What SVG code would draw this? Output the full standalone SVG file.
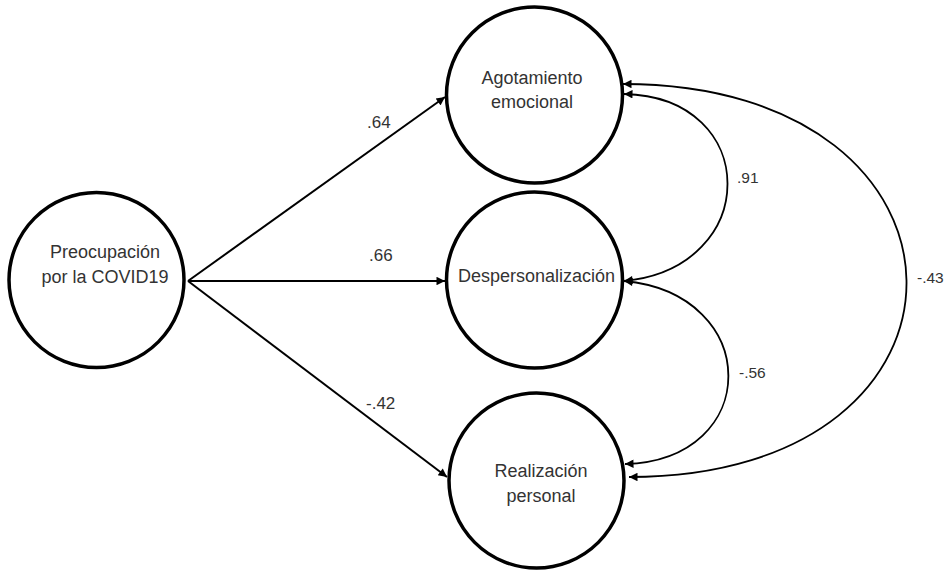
<svg xmlns="http://www.w3.org/2000/svg" width="949" height="572" viewBox="0 0 949 572">
<style>
.node{fill:#fff;stroke:#000;stroke-width:3.5}
.nt{font-family:"Liberation Sans",Arial,sans-serif;font-size:18px;fill:#333;text-anchor:middle}
.lab{font-family:"Liberation Sans",Arial,sans-serif;font-size:17px;fill:#333}
.lab2{font-family:"Liberation Sans",Arial,sans-serif;font-size:15.5px;fill:#333}
.ed{fill:none;stroke:#000;stroke-width:2}
.cv{fill:none;stroke:#000;stroke-width:1.8}
</style>
<defs>
<marker id="ah" viewBox="0 0 10 10" refX="10" refY="5" markerWidth="10" markerHeight="8.5" markerUnits="userSpaceOnUse" orient="auto-start-reverse">
<path d="M0,0 L10,5 L0,10 z" fill="#000"/>
</marker>
</defs>
<g id="connectors">
<line class="ed" x1="188" y1="281" x2="445" y2="97" marker-end="url(#ah)"/>
<line class="ed" x1="188" y1="281" x2="445" y2="281" marker-end="url(#ah)"/>
<line class="ed" x1="188" y1="281" x2="447" y2="477" marker-end="url(#ah)"/>
<path class="cv" d="M624,94 C762,97 762,268 624,281" marker-start="url(#ah)" marker-end="url(#ah)"/>
<path class="cv" d="M624,281 C763,294 763,460 625,464" marker-start="url(#ah)" marker-end="url(#ah)"/>
<path class="cv" d="M623,84 C997,84 1003,477 629,477" marker-start="url(#ah)" marker-end="url(#ah)"/>
<text class="lab" x="367" y="128">.64</text>
<text class="lab" x="369" y="261">.66</text>
<text class="lab" x="366" y="409">-.42</text>
<text class="lab2" x="737" y="183">.91</text>
<text class="lab2" x="739" y="378">-.56</text>
<text class="lab2" x="917" y="283">-.43</text>
</g>
<g id="preocupacion">
<circle class="node" cx="96.5" cy="280" r="87.5"/>
<text class="nt" x="105" y="258">Preocupación</text>
<text class="nt" x="105" y="283">por la COVID19</text>
</g>
<g id="agotamiento">
<circle class="node" cx="534.5" cy="95" r="88"/>
<text class="nt" x="532" y="84">Agotamiento</text>
<text class="nt" x="532" y="108">emocional</text>
</g>
<g id="despersonalizacion">
<circle class="node" cx="534.5" cy="280" r="88"/>
<text class="nt" x="536.5" y="282">Despersonalización</text>
</g>
<g id="realizacion">
<circle class="node" cx="536.5" cy="480.5" r="87.5"/>
<text class="nt" x="541" y="477">Realización</text>
<text class="nt" x="541" y="502">personal</text>
</g>
</svg>
